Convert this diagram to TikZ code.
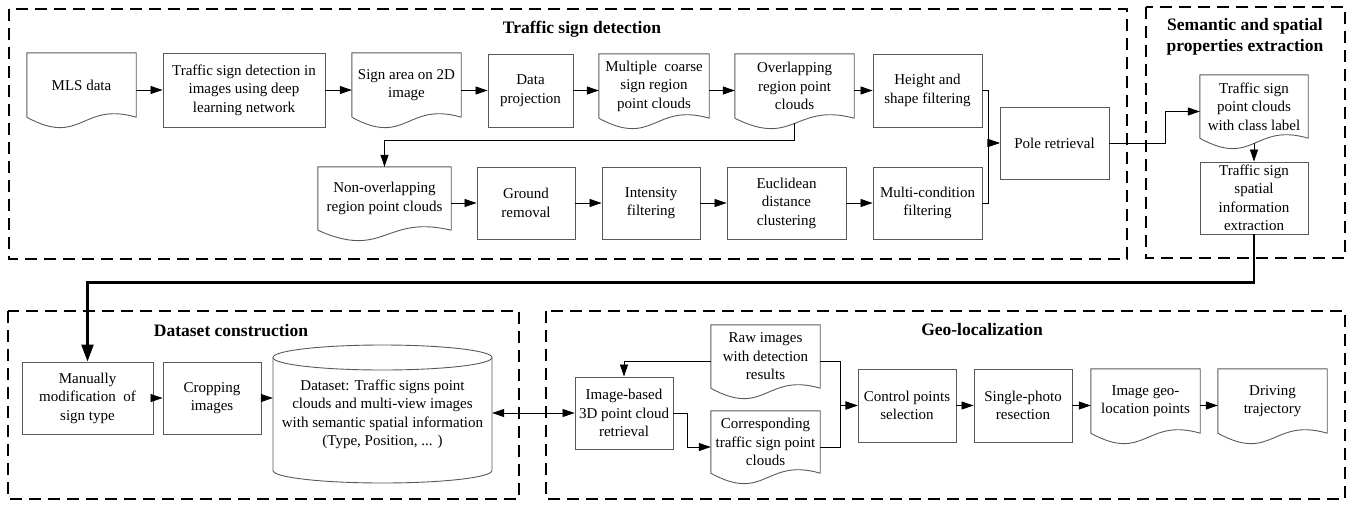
\documentclass[tikz,border=0pt]{standalone}
\usepackage{fontspec}
\setmainfont{Liberation Serif}
\usetikzlibrary{arrows.meta}
\definecolor{boxgray}{gray}{0.35}
\newcommand\nfs{\fontsize{15}{18.5}\selectfont}
\newcommand\tfs{\fontsize{17.5}{20.5}\selectfont\bfseries}
\newcommand\docout[1]{\draw[docline] (#1.south west) -- (#1.north west) -- (#1.north east) -- (#1.south east) .. controls ([yshift=16pt]#1.south) and ([yshift=-30pt]#1.south) .. (#1.south west);}
\tikzset{
  boxline/.style={draw=boxgray, line width=0.9pt},
  docline/.style={draw=boxgray, line width=0.9pt, line join=round},
  box/.style={boxline, align=center, inner sep=1pt, font=\nfs},
  docnode/.style={draw=none, align=center, inner sep=1pt, font=\nfs},
  arr/.style={-{Triangle[length=12pt,width=8pt]}, line width=0.8pt},
  arrboth/.style={{Triangle[length=12pt,width=8pt]}-{Triangle[length=12pt,width=8pt]}, line width=0.8pt},
  thickarr/.style={-{Triangle[length=17pt,width=12pt]}, line width=2.4pt},
  region/.style={draw, line width=1.8pt, dash pattern=on 12pt off 7pt},
  title/.style={font=\tfs, align=center, inner sep=0pt}
}
\begin{document}
\begin{tikzpicture}[x=1pt,y=-1pt]
\useasboundingbox (0,0) rectangle (1357,504);
% regions
\draw[region] (9,9) rectangle (1127,259);
\draw[region] (1146,7) rectangle (1345,258);
\draw[region] (8,311) rectangle (519,499);
\draw[region] (546,311) rectangle (1345,499);
\node[title] (t1) at (582,29) {Traffic sign detection};
\node[title] (t2) at (1245,37) {Semantic and spatial\\properties extraction};
\node[title] (t3) at (231,331) {Dataset construction};
\node[title] (t4) at (982,330) {Geo-localization};

% top row
\node[docnode, minimum width=109, minimum height=64] (mls) at (81.5,85) {MLS data};
\node[box, minimum width=162, minimum height=74] (tsd) at (244,90) {Traffic sign detection in\\images using deep\\learning network};
\node[docnode, minimum width=109, minimum height=64] (sign) at (406.5,85) {Sign area on 2D\\image};
\node[box, minimum width=85, minimum height=73] (proj) at (530.5,90.5) {Data\\projection};
\node[docnode, minimum width=110, minimum height=64] (multi) at (654,86) {Multiple\ \ coarse\\sign region\\point clouds};
\node[docnode, minimum width=119, minimum height=64] (ovl) at (794.5,86) {Overlapping\\region point\\clouds};
\node[box, minimum width=109, minimum height=73] (hsf) at (927.5,90.5) {Height and\\shape filtering};
\node[box, minimum width=109, minimum height=72] (pole) at (1054.5,143) {Pole retrieval};
% second row
\node[docnode, minimum width=133, minimum height=63] (nonovl) at (384.5,198.5) {Non-overlapping\\region point clouds};
\node[box, minimum width=98, minimum height=72] (ground) at (526,203) {Ground\\removal};
\node[box, minimum width=98, minimum height=72] (intens) at (651,203) {Intensity\\filtering};
\node[box, minimum width=119, minimum height=72] (eucl) at (786.5,203) {Euclidean\\distance\\clustering};
\node[box, minimum width=109, minimum height=72] (mcf) at (927.5,203) {Multi-condition\\filtering};
% semantic
\node[docnode, minimum width=108, minimum height=63] (tspc) at (1254,106.5) {Traffic sign\\point clouds\\with class label};
\node[box, minimum width=108, minimum height=72] (tssi) at (1254,198) {Traffic sign\\spatial\\information\\extraction};
% dataset
\node[box, minimum width=131, minimum height=72] (manual) at (87.5,398) {Manually\\modification\ \ of\\sign type};
\node[box, minimum width=98, minimum height=72] (crop) at (212,398) {Cropping\\images};
\node[docnode, minimum width=219, minimum height=90] (cyl) at (382.5,414.5) {Dataset: Traffic signs point\\clouds and multi-view images\\with semantic spatial information\\(Type, Position, ... )};
% geo
\node[box, minimum width=98, minimum height=72] (imgb) at (624,413) {Image-based\\3D point cloud\\retrieval};
\node[docnode, minimum width=109, minimum height=63] (raw) at (765.5,356.5) {Raw images\\with detection\\results};
\node[docnode, minimum width=109, minimum height=62] (corr) at (765.5,442) {Corresponding\\traffic sign point\\clouds};
\node[box, minimum width=98, minimum height=73] (ctrl) at (907,405.5) {Control points\\selection};
\node[box, minimum width=98, minimum height=73] (spr) at (1023,405.5) {Single-photo\\resection};
\node[docnode, minimum width=109, minimum height=64] (geo) at (1145.5,401) {Image geo-\\location points};
\node[docnode, minimum width=109, minimum height=64] (drive) at (1272.5,401) {Driving\\trajectory};

% document outlines
\foreach \n in {mls,sign,multi,ovl,nonovl,tspc,raw,corr,geo,drive}{\docout{\n}}
% cylinder
\draw[boxline] (382.5,357.5) ellipse [x radius=109.5pt, y radius=12.5pt];
\draw[boxline] (273,357.5) -- (273,470.5) arc[start angle=180, end angle=360, x radius=109.5pt, y radius=12.5pt] -- (492,357.5);

% connectors top
\draw[arr] (tsd.west -| mls.east) -- (tsd.west);
\draw[arr] (tsd.east) -- (tsd.east -| sign.west);
\draw[arr] (sign.east |- proj.west) -- (proj.west);
\draw[arr] (proj.east) -- (proj.east -| multi.west);
\draw[arr] (multi.east |- hsf.west) -- (ovl.west |- hsf.west);
\draw[arr] (ovl.east |- hsf.west) -- (hsf.west);
\draw[arr] ([yshift=-5pt]ovl.south) -- ++(0,17) -| (nonovl.north);
\draw[arr] (nonovl.east |- ground.west) -- (ground.west);
\draw[arr] (ground.east) -- (intens.west);
\draw[arr] (intens.east) -- (eucl.west);
\draw[arr] (eucl.east) -- (mcf.west);
\draw[arr] (hsf.east) -- ++(6,0) |- (pole.west);
\draw[arr] (mcf.east) -- ++(6,0) |- (pole.west);
\draw[arr] (pole.east) -- ++(56,0) |- ([yshift=-5pt]tspc.west);
\draw[arr] ([yshift=-5pt]tspc.south) -- (tssi.north);
\draw[thickarr] (tssi.south) -- ++(0,48) -| (manual.north);
% bottom
\draw[arr] (manual.east) -- (crop.west);
\draw[arr] (crop.east) -- (crop.east -| cyl.west);
\draw[arrboth] (cyl.east |- imgb.west) -- (imgb.west);
\draw[arr] ([yshift=-5pt]raw.west) -| (imgb.north);
\draw[arr] (imgb.east) -- ++(14,0) |- ([yshift=-5pt]corr.west);
\draw[arr] ([yshift=-5pt]raw.east) -- ++(20,0) |- (ctrl.west);
\draw[arr] ([yshift=-5pt]corr.east) -- ++(20,0) |- (ctrl.west);
\draw[arr] (ctrl.east) -- (spr.west);
\draw[arr] (spr.east) -- (spr.east -| geo.west);
\draw[arr] (geo.east |- spr.east) -- (spr.east -| drive.west);
\end{tikzpicture}
\end{document}
